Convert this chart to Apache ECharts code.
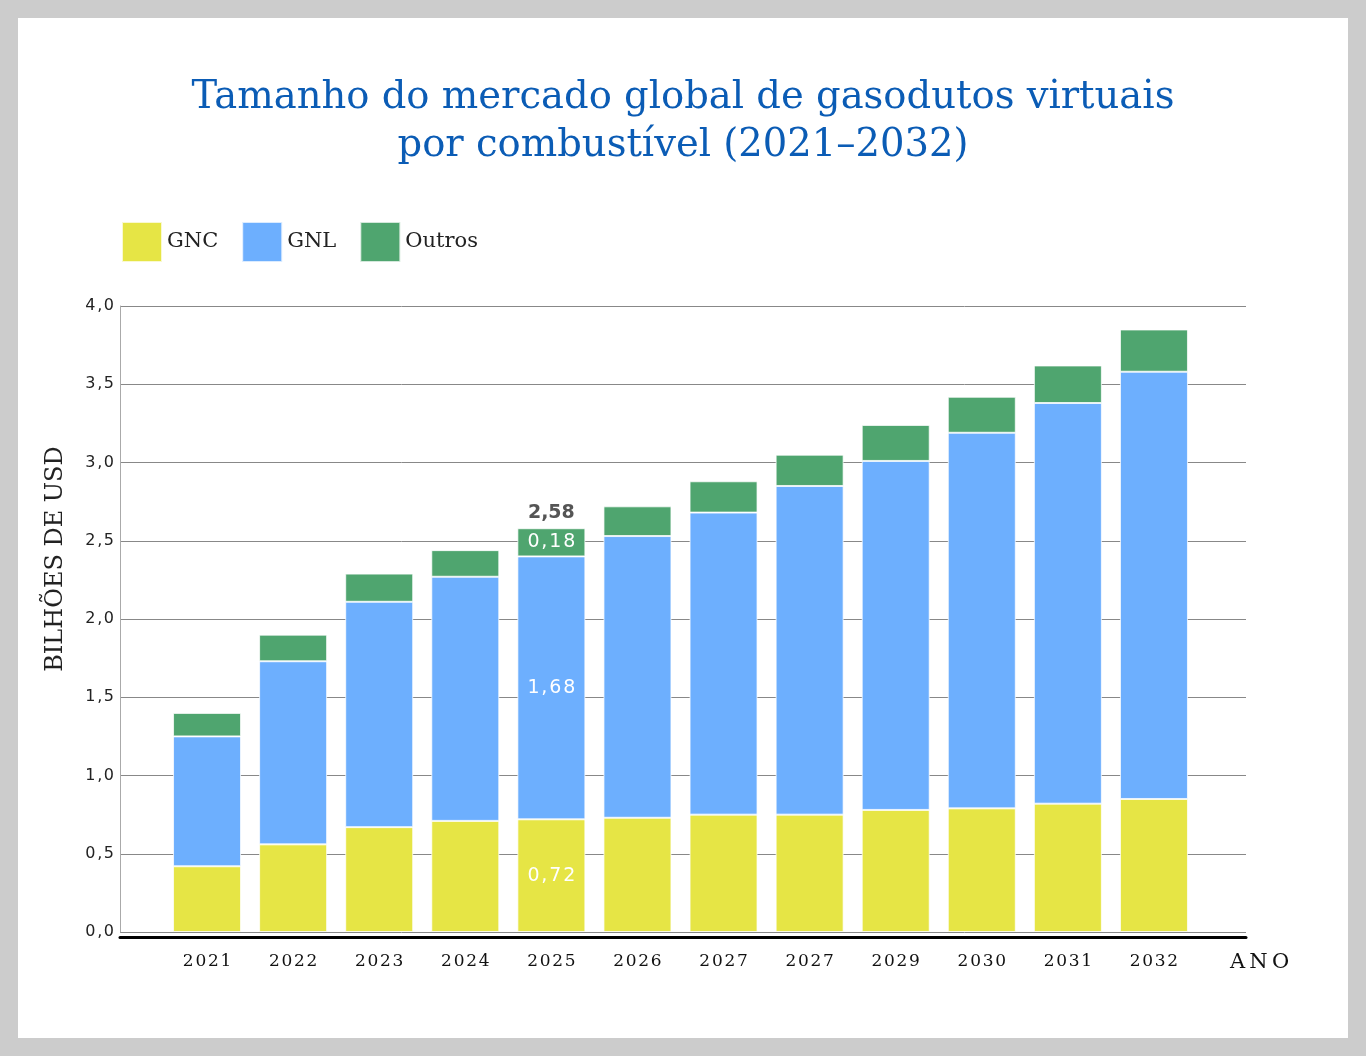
<!DOCTYPE html>
<html>
<head>
<meta charset="utf-8">
<style>
html,body{margin:0;padding:0;background:#cccccc;width:1366px;height:1056px;overflow:hidden;}
#c{position:absolute;left:18px;top:18px;width:1330px;height:1020px;background:#ffffff;}
</style>
<script src="https://cdn.jsdelivr.net/npm/echarts@6/dist/echarts.min.js"></script>
</head>
<body>
<div id="c"></div>
<script>
var titleText = 'Tamanho do mercado global de gasodutos virtuais\npor combustível (2021–2032)';
var categories = ['2021','2022','2023','2024','2025','2026','2027','2027','2029','2030','2031','2032'];
var gnc    = [0.42, 0.56, 0.67, 0.71, 0.72, 0.73, 0.75, 0.75, 0.78, 0.79, 0.82, 0.85];
var gnl    = [0.83, 1.17, 1.44, 1.56, 1.68, 1.80, 1.93, 2.10, 2.23, 2.40, 2.56, 2.73];
var outros = [0.15, 0.17, 0.18, 0.17, 0.18, 0.19, 0.20, 0.20, 0.23, 0.23, 0.24, 0.27];
var yTicks = [0, 0.5, 1.0, 1.5, 2.0, 2.5, 3.0, 3.5, 4.0];
var labelIndex = 4;

function fmt(v){ return v.toFixed(2).replace('.', ','); }
function spaced(s){ return s.split('').join('\u200A'); }

var totals = categories.map(function(_, i){ return +(gnc[i] + gnl[i] + outros[i]).toFixed(2); });

function withLabel(arr){
  return arr.map(function(v, i){
    if (i === labelIndex) return { value: v, label: { show: true } };
    return v;
  });
}

var inLabel = {
  show: false, position: 'inside', color: '#ffffff',
  fontFamily: 'DejaVu Sans', fontSize: 19,
  formatter: function(p){ return spaced(fmt(p.value)); }
};
var barBorder = { borderColor: 'rgba(255,255,255,0.75)', borderWidth: 1 };

var chart = echarts.init(document.getElementById('c'), null, { renderer: 'canvas' });
chart.setOption({
  animation: false,
  title: {
    text: titleText,
    left: 'center', top: 51,
    textStyle: { color: '#0b5cb5', fontFamily: 'DejaVu Serif', fontWeight: 'normal', fontSize: 38.5, lineHeight: 48 }
  },
  legend: {
    data: ['GNC', 'GNL', 'Outros'],
    left: 103, top: 203, padding: 0,
    itemWidth: 40, itemHeight: 40, itemGap: 23,
    icon: 'rect',
    textStyle: { color: '#222222', fontFamily: 'DejaVu Serif', fontSize: 21 }
  },
  grid: [
    { left: 102, right: 102, top: 288, bottom: 106 },
    { left: 146, right: 151, top: 288, bottom: 106 }
  ],
  xAxis: [
    {
      gridIndex: 0, type: 'value', min: 0, max: 1,
      offset: 5,
      axisLine: { show: true, onZero: false, lineStyle: { color: '#000000', width: 3 } },
      axisTick: { show: false }, axisLabel: { show: false }, splitLine: { show: false },
      name: 'A\u2009N\u2009O', nameLocation: 'end', nameGap: -16,
      nameTextStyle: { color: '#111111', fontFamily: 'DejaVu Serif', fontSize: 21, align: 'left', verticalAlign: 'top', padding: [15, 0, 0, 0] }
    },
    {
      gridIndex: 1, type: 'category', data: categories,
      axisLine: { show: false }, axisTick: { show: false },
      axisLabel: { margin: 21, color: '#111111', fontFamily: 'DejaVu Serif', fontSize: 17, formatter: function(v){ return spaced(v); } }
    }
  ],
  yAxis: [
    {
      gridIndex: 0, type: 'value', min: 0, max: 4, interval: 0.5,
      axisLine: { show: true, lineStyle: { color: '#aaaaaa', width: 1 } },
      axisTick: { show: false },
      splitLine: { show: true, lineStyle: { color: '#888888', width: 1 } },
      axisLabel: {
        margin: 6, color: '#222222', fontFamily: 'DejaVu Sans', fontSize: 16,
        padding: [0, 0, 12, 0],
        formatter: function(v){ return spaced(v.toFixed(1).replace('.', ',')); }
      },
      name: 'BILHÕES DE USD', nameLocation: 'middle', nameGap: 52, nameRotate: 90,
      nameTextStyle: { color: '#222222', fontFamily: 'DejaVu Serif', fontSize: 24, padding: [0, 0, 0, 120] }
    },
    {
      gridIndex: 1, type: 'value', min: 0, max: 4, interval: 0.5, show: false,
      splitLine: { show: false }
    }
  ],
  series: [
    {
      name: 'GNC', type: 'bar', stack: 'total', xAxisIndex: 1, yAxisIndex: 1,
      barWidth: '79%', itemStyle: Object.assign({ color: '#e6e545' }, barBorder),
      label: inLabel, data: withLabel(gnc)
    },
    {
      name: 'GNL', type: 'bar', stack: 'total', xAxisIndex: 1, yAxisIndex: 1,
      barWidth: '79%', itemStyle: Object.assign({ color: '#6daffe' }, barBorder),
      label: inLabel, data: withLabel(gnl)
    },
    {
      name: 'Outros', type: 'bar', stack: 'total', xAxisIndex: 1, yAxisIndex: 1,
      barWidth: '79%', itemStyle: Object.assign({ color: '#4fa56f' }, barBorder),
      label: inLabel, data: withLabel(outros)
    },
    {
      name: 'Total', type: 'bar', stack: 'total', xAxisIndex: 1, yAxisIndex: 1,
      barWidth: '79%', itemStyle: { color: 'rgba(0,0,0,0)' },
      label: {
        show: false, position: 'top', distance: 6, color: '#555555',
        fontFamily: 'DejaVu Sans', fontWeight: 'bold', fontSize: 19,
        formatter: function(p){ return fmt(totals[p.dataIndex]); }
      },
      data: totals.map(function(t, i){
        return i === labelIndex ? { value: 0, label: { show: true } } : 0;
      })
    }
  ]
});
</script>
</body>
</html>
